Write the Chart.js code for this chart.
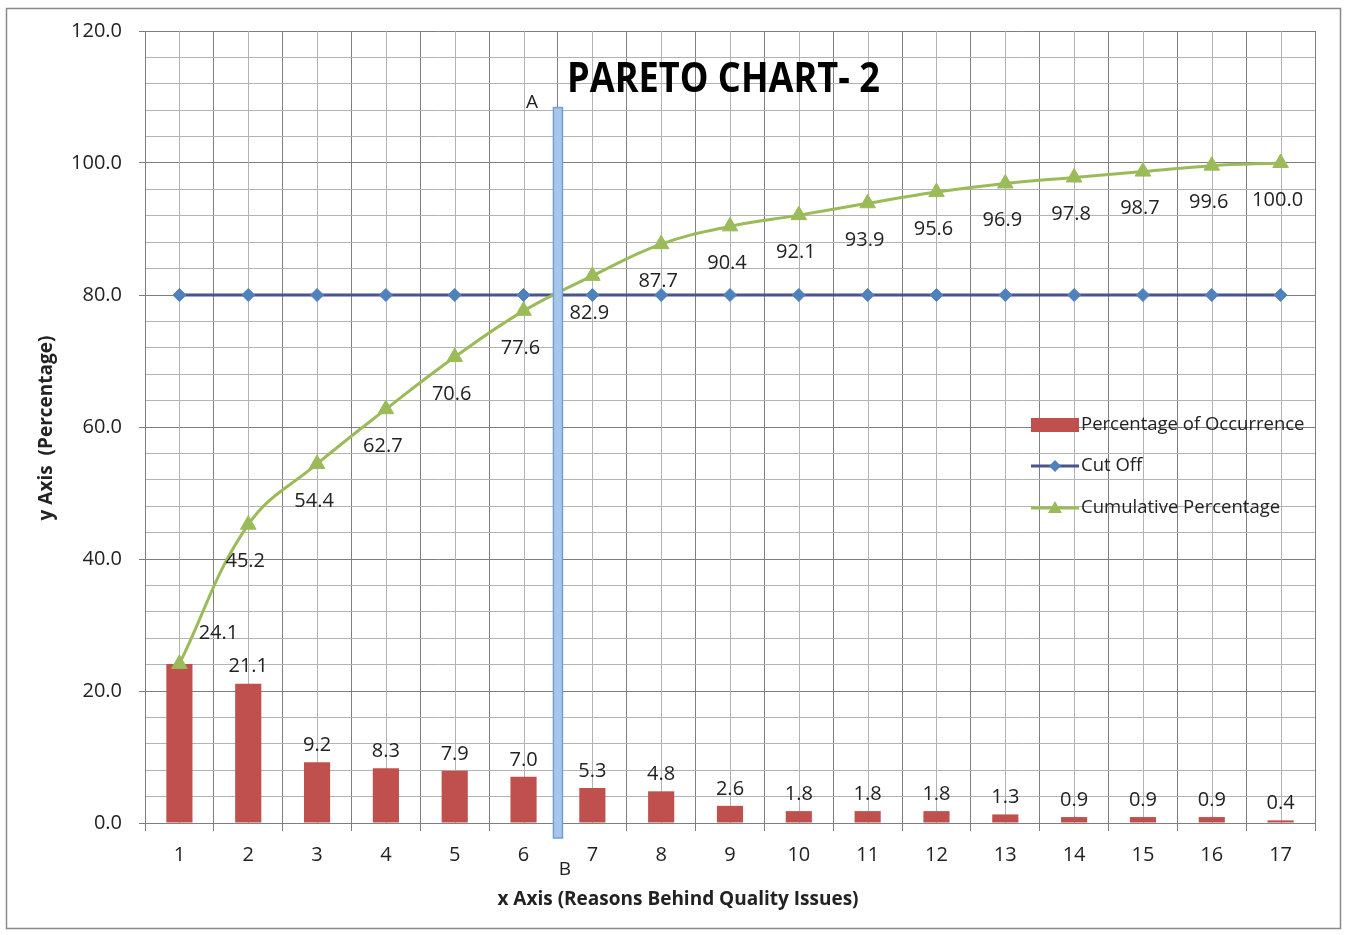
<!DOCTYPE html>
<html>
<head>
<meta charset="utf-8">
<title>Pareto Chart 2</title>
<script src="https://cdn.jsdelivr.net/npm/chart.js@4.4.1/dist/chart.umd.min.js"></script>
<style>
  html, body { margin: 0; padding: 0; background: #ffffff; }
  #wrap { position: relative; width: 1348px; height: 935px; }
</style>
</head>
<body>
<div id="wrap"><canvas id="pareto"></canvas></div>
<script>
// ---- data ----
const reasons = ['1', '2', '3', '4', '5', '6', '7', '8', '9', '10', '11', '12', '13', '14', '15', '16', '17'];
const occurrencePct = [24.1, 21.1, 9.2, 8.3, 7.9, 7.0, 5.3, 4.8, 2.6, 1.8, 1.8, 1.8, 1.3, 0.9, 0.9, 0.9, 0.4];
const cumulativePct = [24.1, 45.2, 54.4, 62.7, 70.6, 77.6, 82.9, 87.7, 90.4, 92.1, 93.9, 95.6, 96.9, 97.8, 98.7, 99.6, 100.0];
const cutOffPct = [80, 80, 80, 80, 80, 80, 80, 80, 80, 80, 80, 80, 80, 80, 80, 80, 80];
const yAxisMax = 120;
const yMinorStep = 4;
const yLabelStep = 20;
// divider between the vital few (1-6) and the trivial many (7-17)
const dividerAfter = '6';
const dividerBefore = '7';
const dividerTopValue = 108.4;
const dividerTopLabel = 'A';
const dividerBottomLabel = 'B';
const chartTitle = 'PARETO CHART- 2';
const xAxisTitle = 'x Axis (Reasons Behind Quality Issues)';
const yAxisTitle = 'y Axis  (Percentage)';

// ---- styling ----
const FONT = '"Open Sans", "DejaVu Sans", sans-serif';
const TEXT = '#222222';
const BAR_RED = '#C0504D';
const CUT_LINE = '#4B5390';
const CUT_MARK = '#4F81BD';
const CUM_GREEN = '#9BBB59';
const GRID_MAJOR = '#7f7f7f';
const GRID_MINOR = '#b3b3b3';

// frame around the whole figure, and the lighter grid line through each category centre
const backdropPlugin = {
  id: 'backdrop',
  beforeDraw(chart) {
    const ctx = chart.ctx;
    ctx.save();
    ctx.fillStyle = '#ffffff';
    ctx.fillRect(0, 0, chart.width, chart.height);
    ctx.strokeStyle = '#8a8a8a';
    ctx.lineWidth = 1.5;
    ctx.strokeRect(6.5, 8.5, chart.width - 14, chart.height - 15);

    // axis titles
    ctx.fillStyle = TEXT;
    ctx.font = 'bold 19px ' + FONT;
    ctx.textAlign = 'center';
    ctx.textBaseline = 'middle';
    ctx.fillText(xAxisTitle, 678, 900);
    ctx.save();
    ctx.translate(47, 428);
    ctx.rotate(-Math.PI / 2);
    ctx.fillText(yAxisTitle, 0, 0);
    ctx.restore();
    ctx.restore();
  },
  beforeDatasetsDraw(chart) {
    const { ctx, chartArea } = chart;
    const x = chart.scales.x;
    ctx.save();
    ctx.strokeStyle = GRID_MINOR;
    ctx.lineWidth = 1;
    reasons.forEach((r, i) => {
      const px = Math.round(x.getPixelForValue(i)) + 0.5;
      ctx.beginPath();
      ctx.moveTo(px, chartArea.top);
      ctx.lineTo(px, chartArea.bottom);
      ctx.stroke();
    });
    ctx.restore();
  }
};

// divider bar, value labels, title and legend drawn over the series
const overlayPlugin = {
  id: 'overlay',
  afterDatasetsDraw(chart) {
    const { ctx, chartArea } = chart;
    const x = chart.scales.x;
    const y = chart.scales.y;
    ctx.save();

    // divider A-B
    const xa = x.getPixelForValue(reasons.indexOf(dividerAfter));
    const xb = x.getPixelForValue(reasons.indexOf(dividerBefore));
    const xm = (xa + xb) / 2;
    const yTop = y.getPixelForValue(dividerTopValue);
    const yBot = chartArea.bottom + 15;
    ctx.fillStyle = '#A7C7EA';
    ctx.strokeStyle = '#6E9FD6';
    ctx.lineWidth = 1.5;
    ctx.fillRect(xm - 4.5, yTop, 9, yBot - yTop);
    ctx.strokeRect(xm - 4.5, yTop, 9, yBot - yTop);

    ctx.fillStyle = TEXT;
    ctx.font = '19px ' + FONT;
    ctx.textAlign = 'center';
    ctx.textBaseline = 'middle';
    ctx.fillText(dividerTopLabel, xm - 26, yTop - 5);
    ctx.fillText(dividerBottomLabel, xm + 7, yBot + 32);

    // bar value labels
    ctx.font = '20px ' + FONT;
    const barMeta = chart.getDatasetMeta(0);
    barMeta.data.forEach((bar, i) => {
      if (occurrencePct[i] === cumulativePct[i]) return; // shown by the cumulative label
      ctx.fillText(occurrencePct[i].toFixed(1), bar.x, bar.y - 17);
    });

    // cumulative value labels
    const cumMeta = chart.getDatasetMeta(2);
    cumMeta.data.forEach((pt, i) => {
      if (i === 0) {
        ctx.fillText(cumulativePct[i].toFixed(1), pt.x + 39, pt.y - 31);
      } else {
        ctx.fillText(cumulativePct[i].toFixed(1), pt.x - 3, pt.y + 37);
      }
    });

    // chart title, set in a heavy condensed face
    ctx.font = 'bold 42px ' + FONT;
    ctx.textAlign = 'left';
    ctx.textBaseline = 'alphabetic';
    const tw = ctx.measureText(chartTitle).width;
    const targetW = 313;
    ctx.save();
    ctx.translate(567, 92);
    ctx.scale(targetW / tw, 1);
    ctx.fillStyle = '#000000';
    ctx.fillText(chartTitle, 0, 0);
    ctx.restore();

    // legend
    const lx = 1031, lw = 48, tx = 1081;
    const rows = [425, 466, 508];
    const ds = chart.data.datasets;
    ctx.textBaseline = 'middle';
    // bars
    ctx.fillStyle = ds[0].backgroundColor;
    ctx.fillRect(lx, rows[0] - 7, lw, 14);
    // cut off
    ctx.strokeStyle = ds[1].borderColor;
    ctx.lineWidth = ds[1].borderWidth;
    ctx.beginPath(); ctx.moveTo(lx, rows[1]); ctx.lineTo(lx + lw, rows[1]); ctx.stroke();
    ctx.fillStyle = ds[1].pointBackgroundColor;
    ctx.beginPath();
    ctx.moveTo(lx + lw / 2, rows[1] - 6); ctx.lineTo(lx + lw / 2 + 6, rows[1]);
    ctx.lineTo(lx + lw / 2, rows[1] + 6); ctx.lineTo(lx + lw / 2 - 6, rows[1]);
    ctx.closePath(); ctx.fill();
    // cumulative
    ctx.strokeStyle = ds[2].borderColor;
    ctx.lineWidth = ds[2].borderWidth;
    ctx.beginPath(); ctx.moveTo(lx, rows[2]); ctx.lineTo(lx + lw, rows[2]); ctx.stroke();
    ctx.fillStyle = ds[2].pointBackgroundColor;
    ctx.beginPath();
    ctx.moveTo(lx + lw / 2, rows[2] - 7); ctx.lineTo(lx + lw / 2 + 7, rows[2] + 5);
    ctx.lineTo(lx + lw / 2 - 7, rows[2] + 5); ctx.closePath(); ctx.fill();

    ctx.font = '18.5px ' + FONT;
    ctx.fillStyle = TEXT;
    ctx.textAlign = 'left';
    ds.forEach((d, i) => ctx.fillText(d.label, tx, rows[i]));

    ctx.restore();
  }
};

new Chart(document.getElementById('pareto'), {
  data: {
    labels: reasons,
    datasets: [
      {
        type: 'bar',
        label: 'Percentage of Occurrence',
        data: occurrencePct,
        backgroundColor: BAR_RED,
        borderWidth: 0,
        categoryPercentage: 1,
        barPercentage: 0.38,
        order: 3
      },
      {
        type: 'line',
        label: 'Cut Off',
        data: cutOffPct,
        borderColor: CUT_LINE,
        borderWidth: 3,
        pointStyle: 'rectRot',
        pointRadius: 6.5,
        pointBackgroundColor: CUT_MARK,
        pointBorderColor: CUT_MARK,
        pointBorderWidth: 1,
        fill: false,
        order: 2
      },
      {
        type: 'line',
        label: 'Cumulative Percentage',
        data: cumulativePct,
        borderColor: CUM_GREEN,
        borderWidth: 3,
        tension: 0.4,
        pointStyle: 'triangle',
        pointRadius: 9,
        pointBackgroundColor: CUM_GREEN,
        pointBorderColor: CUM_GREEN,
        pointBorderWidth: 1,
        fill: false,
        order: 1
      }
    ]
  },
  options: {
    responsive: true,
    maintainAspectRatio: false,
    animation: false,
    events: [],
    layout: { padding: { left: 0, top: 31, right: 33, bottom: 0 } },
    plugins: {
      legend: { display: false },
      title: { display: false },
      tooltip: { enabled: false }
    },
    scales: {
      x: {
        type: 'category',
        offset: true,
        grid: {
          offset: true,
          color: GRID_MAJOR,
          lineWidth: 1,
          tickLength: 8,
          tickColor: GRID_MAJOR
        },
        border: { color: GRID_MAJOR, width: 1 },
        ticks: { color: TEXT, font: { family: FONT, size: 20 }, padding: 12, maxRotation: 0 },
        afterFit(scale) { scale.height = 112; }
      },
      y: {
        min: 0,
        max: yAxisMax,
        grid: {
          color: c => (c.tick && c.tick.value % yLabelStep === 0) ? GRID_MAJOR : GRID_MINOR,
          tickColor: c => (c.tick && c.tick.value % yLabelStep === 0) ? GRID_MAJOR : 'rgba(0,0,0,0)',
          lineWidth: 1,
          tickLength: 6
        },
        border: { color: GRID_MAJOR, width: 1 },
        ticks: {
          stepSize: yMinorStep,
          maxTicksLimit: 100,
          autoSkip: false,
          color: TEXT,
          font: { family: FONT, size: 20 },
          padding: 17,
          callback: v => (v % yLabelStep === 0) ? Number(v).toFixed(1) : ''
        },
        afterFit(scale) { scale.width = 145; }
      }
    }
  },
  plugins: [backdropPlugin, overlayPlugin]
});
</script>
</body>
</html>
